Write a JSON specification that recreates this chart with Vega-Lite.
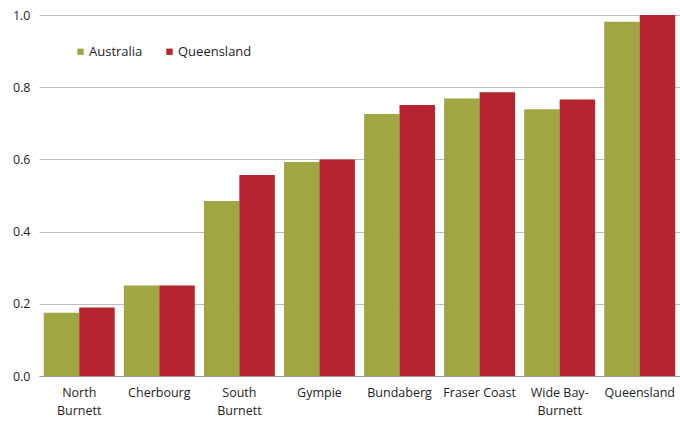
{
  "$schema": "https://vega.github.io/schema/vega-lite/v6.json",
  "width": 641,
  "height": 361,
  "autosize": {"type": "none"},
  "padding": {"left": 39, "top": 15, "right": 0, "bottom": 45},
  "background": "white",
  "config": {
    "view": {"stroke": null},
    "font": "Open Sans",
    "axis": {"labelFont": "Open Sans", "labelColor": "#1e1e1e", "labelFontSize": 12.5}
  },
  "data": {
    "values": [
      {"region": "North Burnett", "series": "Australia", "value": 0.175},
      {"region": "North Burnett", "series": "Queensland", "value": 0.19},
      {"region": "Cherbourg", "series": "Australia", "value": 0.251},
      {"region": "Cherbourg", "series": "Queensland", "value": 0.251},
      {"region": "South Burnett", "series": "Australia", "value": 0.485},
      {"region": "South Burnett", "series": "Queensland", "value": 0.557},
      {"region": "Gympie", "series": "Australia", "value": 0.593},
      {"region": "Gympie", "series": "Queensland", "value": 0.6},
      {"region": "Bundaberg", "series": "Australia", "value": 0.726},
      {"region": "Bundaberg", "series": "Queensland", "value": 0.751},
      {"region": "Fraser Coast", "series": "Australia", "value": 0.769},
      {"region": "Fraser Coast", "series": "Queensland", "value": 0.786},
      {"region": "Wide Bay-Burnett", "series": "Australia", "value": 0.739},
      {"region": "Wide Bay-Burnett", "series": "Queensland", "value": 0.766},
      {"region": "Queensland", "series": "Australia", "value": 0.981},
      {"region": "Queensland", "series": "Queensland", "value": 1.0}
    ]
  },
  "encoding": {
    "x": {
      "field": "region",
      "type": "nominal",
      "sort": null,
      "scale": {"paddingInner": 0.115, "paddingOuter": 0.06},
      "axis": {
        "title": null,
        "labelAngle": 0,
        "ticks": false,
        "domain": true,
        "domainColor": "#9a9a9a",
        "labelPadding": 10,
        "labelLineHeight": 18,
        "labelExpr": "datum.label == 'North Burnett' ? ['North', 'Burnett'] : datum.label == 'South Burnett' ? ['South', 'Burnett'] : datum.label == 'Wide Bay-Burnett' ? ['Wide Bay-', 'Burnett'] : datum.label"
      }
    },
    "xOffset": {"field": "series", "type": "nominal", "scale": {"paddingInner": 0}},
    "y": {
      "field": "value",
      "type": "quantitative",
      "scale": {"domain": [0, 1], "nice": false},
      "axis": {
        "title": null,
        "format": ".1f",
        "values": [0, 0.2, 0.4, 0.6, 0.8, 1.0],
        "domain": false,
        "ticks": false,
        "labelPadding": 9,
        "gridColor": "#bdbdbd",
        "gridWidth": 1.2
      }
    }
  },
  "layer": [
    {
      "mark": {"type": "bar", "color": "#9c9c9c", "opacity": 0.45, "xOffset": 2, "yOffset": 1}
    },
    {
      "mark": {"type": "bar"},
      "encoding": {
        "color": {
          "field": "series",
          "type": "nominal",
          "scale": {"domain": ["Australia", "Queensland"], "range": ["#a0a641", "#b5242f"]},
          "legend": {
            "title": null,
            "orient": "none",
            "legendX": 35,
            "legendY": 30,
            "direction": "horizontal",
            "symbolType": "square",
            "symbolSize": 40,
            "symbolStrokeWidth": 0,
            "labelFontSize": 13,
            "labelColor": "#1e1e1e",
            "labelOffset": 2,
            "columnPadding": 20
          }
        }
      }
    }
  ]
}
